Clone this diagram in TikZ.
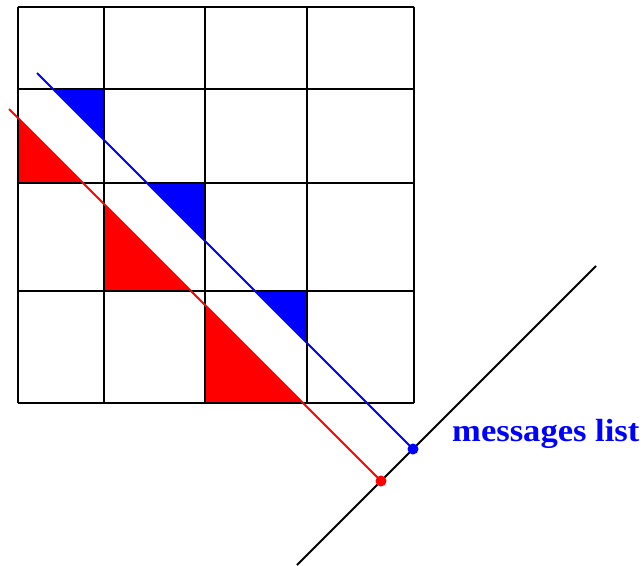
\documentclass[tikz,border=0pt]{standalone}
\usepackage{fontspec}
\setmainfont{Liberation Serif}
\begin{document}
\begin{tikzpicture}[x=1pt,y=-1pt,
  gridline/.style={black,line width=2pt},
  bluefill/.style={fill={rgb,255:red,0;green,0;blue,255}},
  redfill/.style={fill={rgb,255:red,255;green,0;blue,0}},
  blueline/.style={draw={rgb,255:red,0;green,0;blue,255},line width=2pt},
  redline/.style={draw={rgb,255:red,255;green,0;blue,0},line width=2pt},
  axisline/.style={black,line width=2pt},
  dotnode/.style={circle,inner sep=0pt,minimum size=11pt},
  labeltext/.style={text={rgb,255:red,0;green,0;blue,255},font=\fontsize{32}{32}\selectfont\bfseries,inner sep=0pt,anchor=base west,xscale=1.08}]
\useasboundingbox (0,0) rectangle (644,565);
% triangles
\fill[bluefill] (53,89) -- (104,89) -- (104,140) -- cycle;
\fill[bluefill] (147,183) -- (205,183) -- (205,241) -- cycle;
\fill[bluefill] (255,291) -- (307,291) -- (307,343) -- cycle;
\fill[redfill] (18,118) -- (18,183) -- (83,183) -- cycle;
\fill[redfill] (104,204) -- (104,291) -- (191,291) -- cycle;
\fill[redfill] (205,305) -- (205,403) -- (303,403) -- cycle;
% grid
\foreach \xx in {18,104,205,307,414} \draw[gridline] (\xx,7) -- (\xx,403);
\foreach \yy in {7,89,183,291,403} \draw[gridline] (18,\yy) -- (414,\yy);
% axis
\coordinate (axisA) at (297,565);
\coordinate (axisB) at (596,266);
\draw[axisline] (axisA) -- (axisB);
% dots
\node[dotnode,fill={rgb,255:red,0;green,0;blue,255}] (bdot) at (413,449) {};
\node[dotnode,fill={rgb,255:red,255;green,0;blue,0}] (rdot) at (381,481) {};
\coordinate (bstart) at (37,73);
\coordinate (rstart) at (9,109);
\draw[blueline] (bstart) -- (bdot.center);
\draw[redline] (rstart) -- (rdot.center);
\node[labeltext] (lbl) at (452,441) {messages list};
\end{tikzpicture}
\end{document}
